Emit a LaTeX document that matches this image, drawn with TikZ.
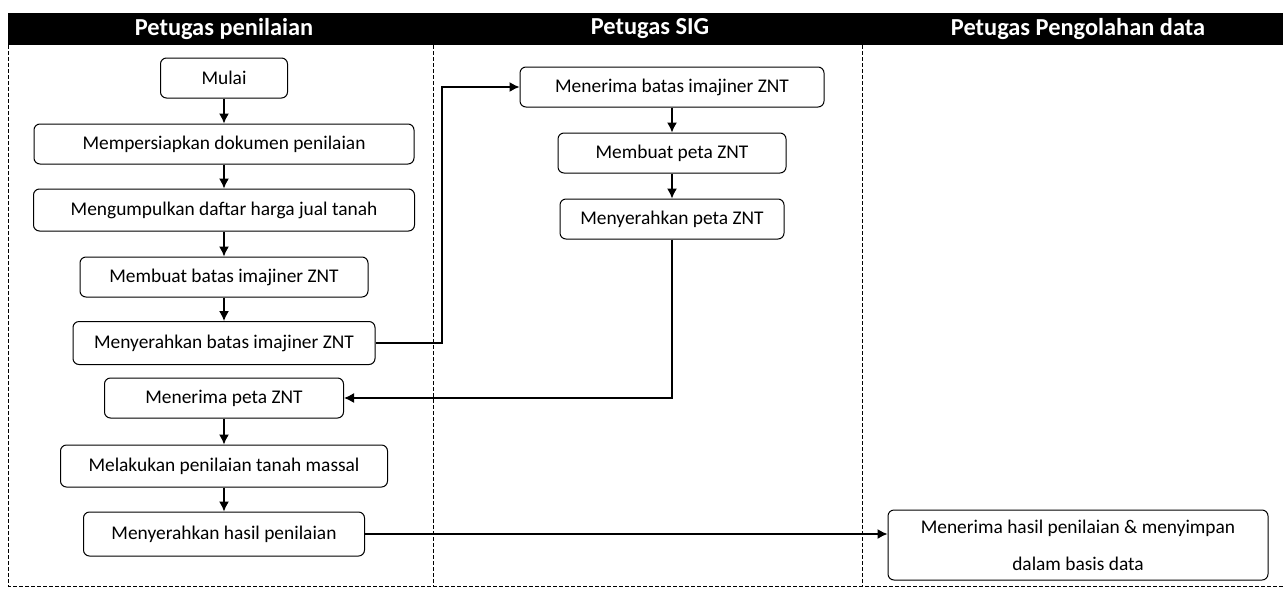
\documentclass[tikz,border=0pt]{standalone}
\usepackage{fontspec}
\setmainfont{Carlito}
\usetikzlibrary{arrows, arrows.meta, calc, positioning}
\tikzset{
    stepBox/.style={rectangle, draw, line width=0.5pt, rounded corners=3pt, fill=white, minimum height=20pt, inner sep=1pt, font=\fontsize{9.7}{18.5}\selectfont},
    laneHead/.style={text=white, inner sep=0pt, font=\fontsize{12.2}{14}\selectfont\bfseries},
    laneLine/.style={thin, dash pattern=on 2pt off 1pt},
    flowEdge/.style={-{Latex[length=5pt, width=5pt]}, line width=0.7pt},
}
\newcommand{\flowDown}[2]{
    \draw[flowEdge] (#1.south) -- (#2.north);
}
\begin{document}
\begin{tikzpicture}[x=0.5pt, y=-0.5pt]
        \useasboundingbox (0,0) rectangle (1283,595);

        % lajur
        \fill[black] (8,13) rectangle (1283,45);
        \node[laneHead] (headNilai) at (224,29) {Petugas penilaian};
        \node[laneHead] (headSIG) at (650,29) {Petugas SIG};
        \node[laneHead] (headOlah) at (1078,29) {Petugas Pengolahan data};
        \draw[laneLine] (8,45) -- (8,586) -- (1283,586);
        \draw[laneLine] (433,45) -- (433,586);
        \draw[laneLine] (862,45) -- (862,586);

        % petugas penilaian
        \node[stepBox, minimum width=63.5pt] (mulai) at (224,78) {Mulai};
        \node[stepBox, minimum width=190pt] (siapDok) at (224,144) {Mempersiapkan dokumen penilaian};
        \node[stepBox, minimum width=190.5pt, minimum height=21pt] (kumpulHarga) at (224,210) {Mengumpulkan daftar harga jual tanah};
        \node[stepBox, minimum width=144pt] (buatBatas) at (224,277) {Membuat batas imajiner ZNT};
        \node[stepBox, minimum width=151pt, minimum height=21.5pt] (serahBatas) at (224,343) {Menyerahkan batas imajiner ZNT};
        \node[stepBox, minimum width=119.5pt] (terimaPeta) at (224,398) {Menerima peta ZNT};
        \node[stepBox, minimum width=163.5pt, minimum height=21pt] (nilaiMassal) at (224,466) {Melakukan penilaian tanah massal};
        \node[stepBox, minimum width=140.5pt, minimum height=22pt] (serahHasil) at (224,534) {Menyerahkan hasil penilaian};

        % petugas SIG
        \node[stepBox, minimum width=152pt] (terimaBatas) at (672,87) {Menerima batas imajiner ZNT};
        \node[stepBox, minimum width=114pt] (buatPeta) at (672,153) {Membuat peta ZNT};
        \node[stepBox, minimum width=112pt] (serahPeta) at (672,219) {Menyerahkan peta ZNT};

        % petugas pengolahan data
        \node[stepBox, minimum width=190pt, minimum height=35pt, align=center] (simpanData) at (1078,545) {Menerima hasil penilaian \& menyimpan\\dalam basis data};

        \flowDown{mulai}{siapDok}
        \flowDown{siapDok}{kumpulHarga}
        \flowDown{kumpulHarga}{buatBatas}
        \flowDown{buatBatas}{serahBatas}
        \flowDown{terimaPeta}{nilaiMassal}
        \flowDown{nilaiMassal}{serahHasil}
        \flowDown{terimaBatas}{buatPeta}
        \flowDown{buatPeta}{serahPeta}

        \coordinate (jogBatas) at (442,343);
        \draw[flowEdge] (serahBatas.east) -- (jogBatas) |- (terimaBatas.west);
        \draw[flowEdge] (serahPeta.south) |- (terimaPeta.east);
        \draw[flowEdge] (serahHasil.east) -- (serahHasil.east -| simpanData.west);

    \end{tikzpicture}
\end{document}
